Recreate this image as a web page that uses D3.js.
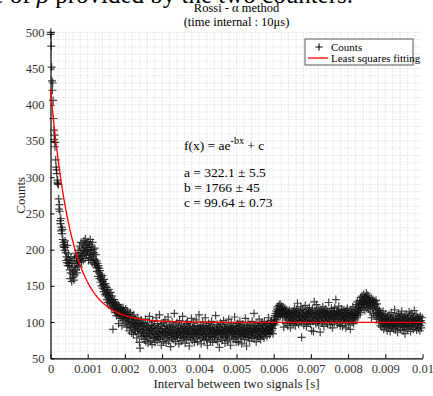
<!DOCTYPE html>
<html>
<head>
<meta charset="utf-8">
<script src="https://cdn.jsdelivr.net/npm/d3@7"></script>
<style>
  html, body { margin: 0; padding: 0; background: #fff; }
  svg { display: block; }
  svg text { font-family: "Liberation Serif", "Times New Roman", serif; }
</style>
</head>
<body>
<svg id="chart" width="433" height="396"></svg>
<script>
// bin width of the histogram (10 µs)
const binWidth = 1e-5;

// counts per bin (bins 0..999)
const counts = [
  497, 500, 481, 452, 433, 420, 430, 406, 381, 365,
  352, 358, 342, 348, 324, 314, 310, 305, 293, 296,
  291, 290, 270, 256, 262, 253, 240, 236, 243, 226,
  231, 222, 228, 214, 205, 210, 203, 207, 199, 212,
  203, 196, 185, 190, 182, 206, 178, 187, 194, 181,
  178, 185, 172, 160, 168, 190, 181, 156, 175, 166,
  184, 162, 170, 158, 188, 176, 165, 195, 172, 181,
  190, 168, 185, 178, 199, 183, 192, 176, 205, 187,
  196, 188, 210, 183, 194, 202, 191, 208, 185, 199,
  212, 195, 203, 188, 215, 198, 206, 192, 209, 200,
  197, 211, 185, 203, 193, 207, 189, 214, 199, 186,
  204, 195, 182, 210, 191, 200, 187, 196, 180, 202,
  186, 179, 193, 175, 184, 170, 181, 176, 163, 178,
  168, 174, 160, 171, 155, 166, 162, 150, 158, 164,
  147, 156, 152, 142, 159, 145, 150, 138, 153, 140,
  136, 148, 131, 143, 127, 139, 134, 145, 129, 137,
  125, 133, 141, 122, 130, 119, 136, 126, 90, 128,
  121, 131, 117, 125, 113, 127, 119, 109, 123, 115,
  118, 112, 124, 98, 116, 110, 121, 105, 114, 119,
  108, 117, 95, 113, 106, 120, 111, 102, 115, 109,
  112, 104, 118, 99, 110, 93, 107, 115, 97, 105,
  101, 111, 88, 106, 96, 113, 92, 103, 85, 99,
  108, 94, 100, 83, 110, 96, 90, 104, 87, 98,
  93, 102, 78, 97, 89, 106, 84, 95, 100, 72,
  91, 64, 98, 86, 103, 80, 94, 89, 99, 82,
  86, 97, 76, 92, 81, 104, 73, 89, 95, 80,
  84, 99, 71, 88, 93, 78, 108, 85, 90, 74,
  91, 82, 96, 69, 87, 101, 79, 93, 84, 77,
  95, 72, 88, 83, 106, 80, 91, 75, 98, 86,
  79, 92, 85, 110, 76, 89, 82, 97, 68, 87,
  94, 80, 86, 73, 99, 84, 91, 77, 103, 85,
  88, 71, 95, 82, 90, 79, 107, 86, 74, 93,
  81, 97, 87, 66, 92, 84, 78, 100, 89, 83,
  76, 94, 85, 112, 80, 90, 73, 96, 86, 81,
  99, 78, 88, 84, 93, 70, 87, 102, 79, 91,
  85, 74, 96, 82, 89, 108, 77, 92, 86, 80,
  94, 83, 71, 90, 87, 98, 76, 85, 101, 88,
  79, 93, 84, 67, 91, 82, 96, 78, 89, 105,
  86, 75, 92, 83, 99, 80, 88, 72, 94, 85,
  90, 78, 103, 84, 87, 73, 95, 81, 89, 110,
  83, 92, 77, 88, 96, 70, 86, 91, 79, 100,
  87, 82, 94, 75, 89, 84, 106, 80, 92, 76,
  95, 86, 68, 90, 83, 98, 78, 87, 93, 81,
  74, 91, 85, 101, 80, 89, 72, 96, 84, 88,
  92, 79, 87, 83, 109, 76, 90, 85, 97, 73,
  86, 94, 81, 88, 65, 92, 84, 99, 78, 89,
  83, 96, 75, 90, 87, 102, 80, 86, 93, 71,
  88, 82, 97, 79, 91, 85, 74, 94, 86, 104,
  77, 90, 84, 93, 68, 88, 99, 81, 87, 92,
  85, 76, 95, 83, 89, 107, 79, 91, 84, 73,
  94, 87, 80, 98, 86, 72, 92, 83, 89, 101,
  78, 88, 95, 82, 70, 90, 85, 97, 81, 87,
  93, 76, 89, 84, 105, 80, 91, 67, 86, 95,
  83, 99, 79, 88, 92, 74, 87, 96, 82, 90,
  86, 78, 101, 85, 93, 81, 89, 112, 77, 91,
  95, 84, 88, 73, 90, 98, 82, 87, 79, 94,
  87, 104, 80, 92, 85, 76, 97, 89, 83, 99,
  91, 82, 95, 88, 78, 101, 86, 93, 84, 90,
  96, 87, 80, 98, 92, 85, 106, 89, 94, 83,
  90, 99, 86, 93, 102, 88, 95, 91, 84, 97,
  98, 104, 101, 109, 96, 112, 107, 115, 103, 118,
  110, 121, 114, 108, 123, 117, 112, 125, 109, 119,
  115, 122, 111, 118, 106, 120, 113, 93, 116, 110,
  119, 107, 114, 98, 111, 117, 103, 112, 95, 108,
  113, 105, 116, 100, 110, 92, 107, 114, 102, 109,
  104, 112, 98, 115, 107, 101, 119, 109, 95, 113,
  106, 117, 100, 111, 126, 104, 114, 97, 110, 108,
  102, 116, 107, 121, 99, 79, 112, 105, 118, 103,
  110, 96, 114, 108, 101, 123, 106, 113, 94, 109,
  117, 103, 111, 99, 115, 107, 120, 102, 112, 97,
  109, 114, 88, 106, 118, 101, 112, 87, 107, 128,
  104, 116, 110, 98, 113, 124, 105, 111, 100, 119,
  107, 96, 115, 103, 112, 86, 109, 117, 101, 114,
  108, 99, 121, 105, 111, 94, 116, 102, 113, 107,
  118, 100, 110, 106, 115, 97, 112, 104, 127, 109,
  103, 114, 96, 111, 107, 119, 101, 113, 92, 108,
  116, 105, 112, 99, 120, 106, 110, 131, 103, 114,
  109, 97, 115, 104, 111, 122, 100, 113, 107, 95,
  112, 106, 118, 101, 109, 94, 115, 108, 103, 117,
  105, 113, 99, 110, 92, 116, 107, 102, 119, 111,
  104, 96, 114, 108, 101, 112, 90, 109, 117, 106,
  113, 100, 110, 121, 105, 98, 115, 107, 111, 103,
  118, 109, 124, 112, 106, 128, 115, 120, 110, 125,
  117, 130, 122, 113, 134, 126, 119, 136, 124, 128,
  131, 120, 138, 127, 133, 116, 129, 135, 123, 140,
  126, 132, 121, 137, 128, 118, 134, 125, 130, 114,
  127, 122, 133, 106, 124, 129, 119, 131, 112, 126,
  121, 128, 109, 124, 116, 130, 104, 119, 125, 111,
  118, 107, 113, 99, 116, 104, 110, 95, 112, 101,
  106, 93, 109, 98, 115, 102, 90, 108, 96, 104,
  99, 111, 94, 105, 100, 88, 107, 97, 103, 92,
  110, 96, 101, 87, 106, 98, 113, 93, 104, 100,
  95, 108, 91, 102, 97, 117, 99, 89, 105, 94,
  101, 110, 96, 86, 104, 99, 112, 93, 107, 98,
  103, 90, 109, 97, 115, 100, 94, 106, 88, 102,
  97, 108, 93, 84, 105, 99, 111, 95, 101, 90,
  106, 98, 103, 92, 114, 100, 95, 109, 87, 104,
  99, 112, 94, 105, 101, 90, 107, 97, 116, 102,
  93, 104, 98, 110, 89, 103, 96, 107, 100, 91,
  105, 97, 101, 88, 108, 95, 102, 92, 99, 106
];

// fitted parameters f(x) = a e^{-bx} + c
const fitA = 322.1;
const fitB = 1766;
const fitC = 99.64;

const xTicks = [0, 0.001, 0.002, 0.003, 0.004, 0.005, 0.006, 0.007, 0.008, 0.009, 0.01];
const yTicks = [50, 100, 150, 200, 250, 300, 350, 400, 450, 500];

const titleLines = ["Rossi - α method", "(time internal : 10μs)"];
const fitTextLines = ["a = 322.1 ± 5.5", "b = 1766 ± 45", "c = 99.64 ± 0.73"];

const points = counts.map((v, i) => ({t: i * binWidth, v: v}));

const serif = "'Liberation Serif', 'Times New Roman', serif";
const svg = d3.select("#chart");

// plot edges
const plotLeft = 50.5, plotRight = 422.5, plotTop = 32.3, plotBottom = 358.3;

const x = d3.scaleLinear().domain([0, 0.01]).range([plotLeft, plotRight]);
const y = d3.scaleLinear().domain([50, 500]).range([plotBottom, plotTop]);

// clipped line of the page text above the figure
svg.append("text")
  .attr("x", 353)
  .attr("y", 3)
  .attr("text-anchor", "end")
  .style("font-size", "25px")
  .attr("fill", "#000")
  .html('value of <tspan font-style="italic">ρ</tspan> provided by the two counters.');

// dotted grid
const grid = svg.append("g").attr("stroke", "#c8c8c8").attr("stroke-width", 0.8)
  .attr("stroke-dasharray", "1,2");
grid.selectAll("line.gx")
  .data(d3.range(1, 50).map(i => i * 0.0002))
  .enter().append("line")
  .attr("x1", d => x(d)).attr("x2", d => x(d))
  .attr("y1", plotTop).attr("y2", plotBottom);
grid.selectAll("line.gy")
  .data(d3.range(6, 51).map(i => i * 10))
  .enter().append("line")
  .attr("x1", plotLeft).attr("x2", plotRight)
  .attr("y1", d => y(d)).attr("y2", d => y(d));

// axes
const xAxis = d3.axisBottom(x).tickValues(xTicks).tickSizeInner(-4).tickSizeOuter(0)
  .tickPadding(6).tickFormat(d => d === 0 ? "0" : String(+d.toFixed(3)));
const gx = svg.append("g").attr("transform", `translate(0,${plotBottom})`).call(xAxis)
  .attr("font-family", null).attr("font-size", null);
gx.select(".domain").attr("stroke", "#000").attr("stroke-width", 1.2);
gx.selectAll(".tick line").attr("stroke", "#000");
gx.selectAll("text").style("font-size", "12.5px").style("font-family", serif).attr("fill", "#333");

const yAxis = d3.axisLeft(y).tickValues(yTicks).tickSizeInner(-4).tickSizeOuter(0)
  .tickPadding(6);
const gy = svg.append("g").attr("transform", `translate(${plotLeft},0)`).call(yAxis)
  .attr("font-family", null).attr("font-size", null);
gy.select(".domain").attr("stroke", "#000").attr("stroke-width", 1.2);
gy.selectAll(".tick line").attr("stroke", "#000");
gy.selectAll("text").style("font-size", "12.5px").style("font-family", serif).attr("fill", "#333");

// data markers
svg.append("g")
  .selectAll("path")
  .data(points)
  .enter().append("path")
  .attr("d", "M-4,0H4M0,-4V4")
  .attr("transform", d => `translate(${x(d.t)},${y(d.v)})`)
  .attr("stroke", "#111")
  .attr("stroke-opacity", 0.8)
  .attr("stroke-width", 1.2)
  .attr("fill", "none");

// fitted curve
const line = d3.line()
  .x(d => x(d.t))
  .y(d => y(fitA * Math.exp(-fitB * d.t) + fitC));
svg.append("path")
  .datum(points.concat([{t: 0.01}]))
  .attr("d", line)
  .attr("fill", "none")
  .attr("stroke", "#ff0000")
  .attr("stroke-width", 1.3);

// title
svg.selectAll("text.title")
  .data(titleLines)
  .enter().append("text")
  .attr("class", "title")
  .attr("x", (plotLeft + plotRight) / 2)
  .attr("y", (d, i) => 12 + i * 13.5)
  .attr("text-anchor", "middle")
  .style("font-size", "12.5px")
  .text(d => d);

// axis labels
svg.append("text")
  .attr("x", (plotLeft + plotRight) / 2)
  .attr("y", 388)
  .attr("text-anchor", "middle")
  .style("font-size", "13px")
  .attr("fill", "#222")
  .text("Interval between two signals [s]");
svg.append("text")
  .attr("transform", `translate(25,${(plotTop + plotBottom) / 2}) rotate(-90)`)
  .attr("text-anchor", "middle")
  .style("font-size", "13px")
  .attr("fill", "#222")
  .text("Counts");

// fit annotation
const fx = svg.append("text").attr("x", 184).attr("y", 150).style("font-size", "13.5px");
fx.append("tspan").text("f(x) = ae");
fx.append("tspan").attr("dy", -6).style("font-size", "10px").text("-bx");
fx.append("tspan").attr("dy", 6).text(" + c");
svg.selectAll("text.fit")
  .data(fitTextLines)
  .enter().append("text")
  .attr("class", "fit")
  .attr("x", 184)
  .attr("y", (d, i) => 177 + i * 15)
  .style("font-size", "13.5px")
  .text(d => d);

// legend
const legend = svg.append("g").attr("transform", "translate(305,39)");
legend.append("rect")
  .attr("width", 108).attr("height", 26)
  .attr("fill", "#fff").attr("stroke", "#555").attr("stroke-width", 1);
legend.append("path")
  .attr("d", "M-3.5,0H3.5M0,-3.5V3.5")
  .attr("transform", "translate(14,8)")
  .attr("stroke", "#000").attr("stroke-width", 1.1);
legend.append("line")
  .attr("x1", 3).attr("x2", 23).attr("y1", 19).attr("y2", 19)
  .attr("stroke", "#ff0000").attr("stroke-width", 1.3);
legend.selectAll("text")
  .data(["Counts", "Least squares fitting"])
  .enter().append("text")
  .attr("x", 26)
  .attr("y", (d, i) => 11.5 + i * 11)
  .style("font-size", "11px")
  .text(d => d);
</script>
</body>
</html>
